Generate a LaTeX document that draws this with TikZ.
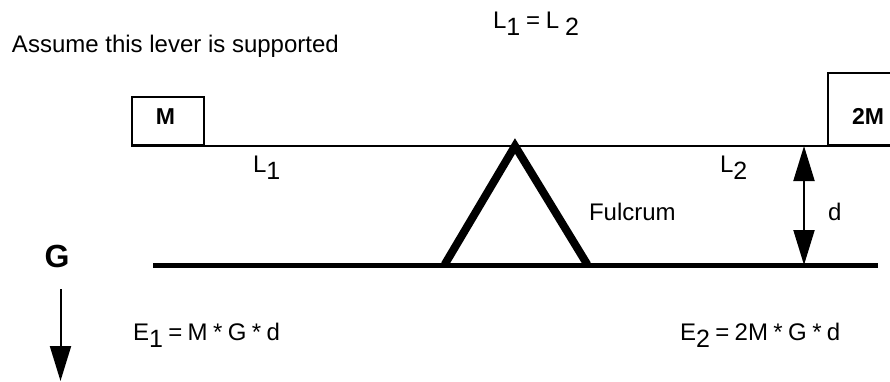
\documentclass[tikz,border=0pt]{standalone}
\usepackage{fontspec}
\setmainfont{Liberation Sans}
\usetikzlibrary{arrows.meta}
\newcommand{\subdrop}[1]{\raisebox{-7.5pt}{\fontsize{25}{25}\selectfont #1}}
\tikzset{
  x=1pt,y=-1pt,
  lbl/.style={anchor=base west,inner sep=0pt,outer sep=0pt,font=\fontsize{24}{26}\selectfont},
  blbl/.style={anchor=base,inner sep=0pt,outer sep=0pt,font=\fontsize{23}{26}\selectfont\bfseries},
  massbox/.style={draw,line width=2pt,fill=white,inner sep=0pt,outer sep=0pt},
  lever/.style={line width=2.7pt},
  base/.style={line width=5pt},
  leg/.style={line width=8pt},
  dim/.style={line width=2pt,-{Triangle[length=35pt,width=21pt]},shorten >=0pt},
}
\begin{document}
\begin{tikzpicture}
\useasboundingbox (0,0) rectangle (890,381);
\coordinate (leverL) at (131,146);
\coordinate (leverR) at (890,146);
\coordinate (groundL) at (153,265);
\coordinate (groundR) at (878,265);
\coordinate (apex) at (515,146);
\coordinate (footL) at (445,264);
\coordinate (footR) at (587,264);
\coordinate (dmid) at (804,205);
\coordinate (dtop) at (804,146);
\coordinate (dbot) at (804,265);
\coordinate (gtop) at (60.5,289);
\coordinate (gbot) at (60.5,381);
\draw[massbox] (132,97) rectangle (204,145);
\draw[massbox] (828,73) -- (828,145) -- (892,145) -- (892,73) -- cycle;
\draw[lever] (leverL) -- (leverR);
\draw[base] (groundL) -- (groundR);
\draw[leg,line cap=round] (footL) -- (apex) -- (footR);
\draw[dim] (dmid) -- (dtop);
\draw[dim] (dmid) -- (dbot);
\draw[dim] (gtop) -- (gbot);
\node[blbl] (m) at (165.5,124) {M};
\node[blbl] (mm) at (868,124) {2M};
\node[blbl,font=\fontsize{32}{32}\selectfont\bfseries] (g) at (57,267) {G};
\node[lbl] (assume) at (12,52) {Assume this lever is supported};
\node[lbl] (eq) at (493,28) {\spaceskip=5.8pt L\subdrop{1} = L \subdrop{2}};
\node[lbl] (l1) at (253,172) {L\subdrop{1}};
\node[lbl] (l2) at (720,172) {L\subdrop{2}};
\node[lbl] (ful) at (589,220) {Fulcrum};
\node[lbl] (d) at (828,220) {d};
\node[lbl] (e1) at (133,340) {\spaceskip=5.4pt E\subdrop{1} = M * G * d};
\node[lbl] (e2) at (680,340) {\spaceskip=5.4pt E\subdrop{2} = 2M * G * d};
\end{tikzpicture}
\end{document}
